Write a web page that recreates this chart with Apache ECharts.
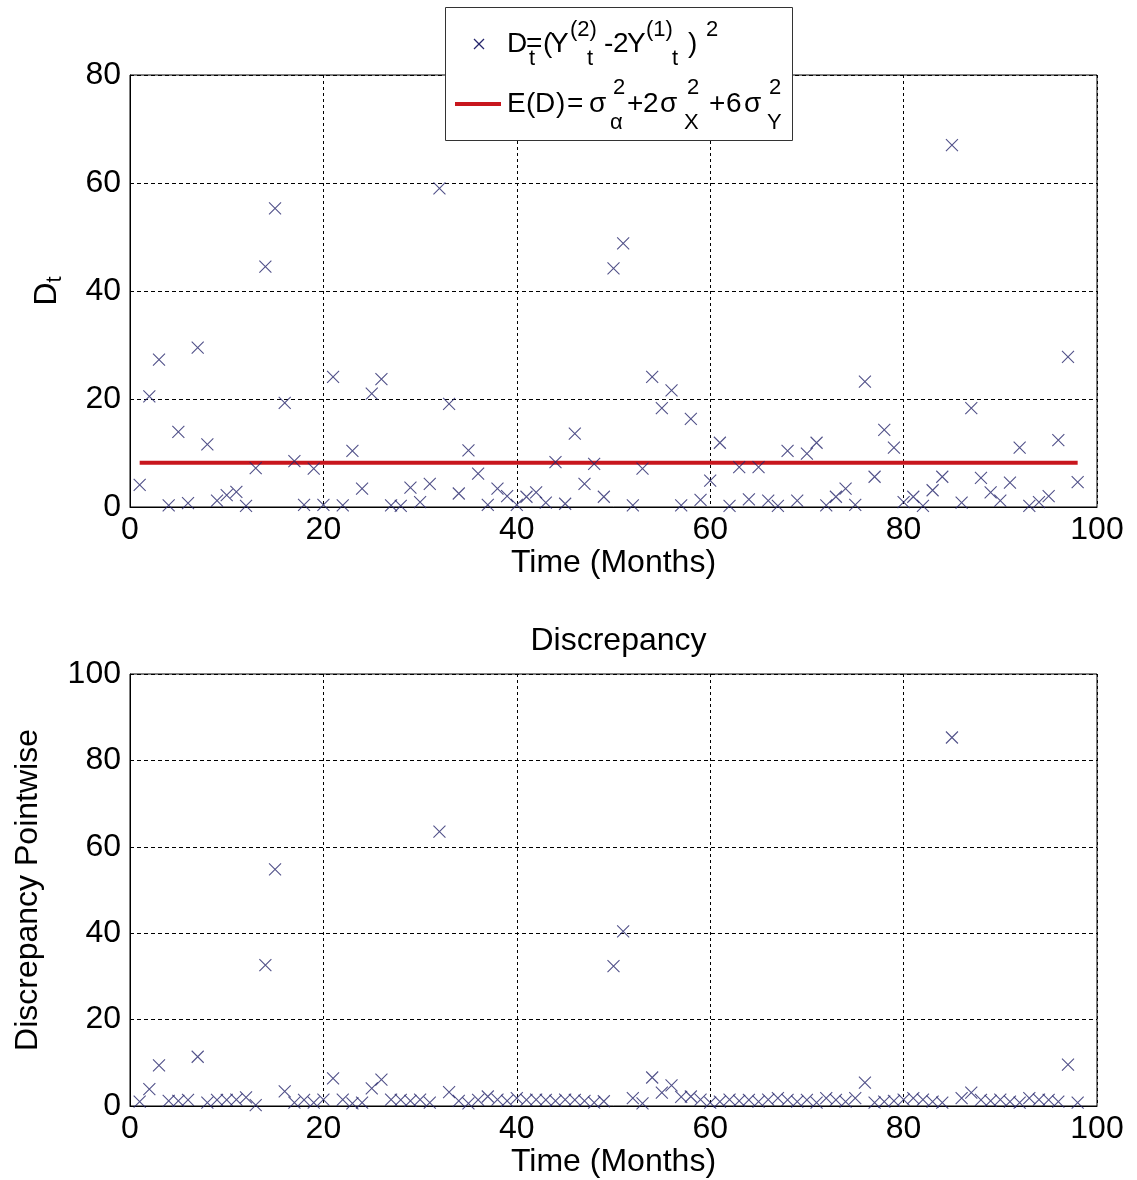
<!DOCTYPE html>
<html>
<head>
<meta charset="utf-8">
<script src="https://cdn.jsdelivr.net/npm/echarts@6/dist/echarts.min.js"></script>
<style>
html,body{margin:0;padding:0;background:#fff;}
#chart{width:1137px;height:1180px;}
</style>
</head>
<body>
<div id="chart"></div>
<script>
// ---- data ----
const months = [1,2,3,4,5,6,7,8,9,10,11,12,13,14,15,16,17,18,19,20,
  21,22,23,24,25,26,27,28,29,30,31,32,33,34,35,36,37,38,39,40,
  41,42,43,44,45,46,47,48,49,50,51,52,53,54,55,56,57,58,59,60,
  61,62,63,64,65,66,67,68,69,70,71,72,73,74,75,76,77,78,79,80,
  81,82,83,84,85,86,87,88,89,90,91,92,93,94,95,96,97,98];

const dtValues = [4.1,20.5,27.3,0.3,13.9,0.7,29.5,11.6,1.2,2.2,
  2.8,0.2,7.2,44.5,55.3,19.3,8.5,0.4,7.1,0.4,
  24.1,0.3,10.4,3.4,21.0,23.7,0.3,0.2,3.6,0.9,
  4.3,59.0,19.1,2.5,10.5,6.2,0.4,3.4,2.0,0.4,
  1.9,2.7,0.8,8.3,0.6,13.6,4.3,8.0,1.9,44.2,
  48.8,0.3,7.1,24.1,18.3,21.6,0.3,16.3,1.3,4.9,
  11.9,0.2,7.4,1.4,7.4,1.2,0.2,10.4,1.2,9.9,
  11.9,0.3,1.9,3.4,0.4,23.2,5.6,14.3,11.0,0.9,
  1.9,0.2,3.1,5.6,67.0,0.8,18.3,5.4,2.7,1.2,
  4.5,11.0,0.2,0.9,2.0,12.4,27.8,4.6];

const discrepancyValues = [1.0,3.9,9.4,1.2,1.2,1.4,11.4,0.8,1.4,1.4,
  1.5,2.0,0.2,32.6,54.8,3.4,0.8,1.4,0.8,1.5,
  6.4,1.5,0.6,0.8,4.1,6.1,1.5,1.4,1.2,1.5,
  0.8,63.5,3.2,1.2,0.6,1.4,2.2,1.5,1.2,1.8,
  1.4,1.5,1.4,1.2,1.5,1.4,1.2,0.8,1.1,32.4,
  40.4,1.8,0.6,6.6,3.1,4.8,2.1,2.2,1.5,0.8,
  1.0,1.5,1.2,1.4,1.0,1.5,1.8,1.4,1.0,1.4,
  0.8,1.8,1.4,1.0,1.8,5.4,0.8,1.0,1.2,1.5,
  1.8,1.5,1.0,0.8,85.3,1.8,3.1,1.4,1.2,1.5,
  1.0,0.8,1.8,1.5,1.4,1.0,9.6,0.8];

const expectedD = 8.2;

const xTicks = [0,20,40,60,80,100];
const topYTicks = [0,20,40,60,80];
const bottomYTicks = [0,20,40,60,80,100];

const titleText = 'Discrepancy';
const xName = 'Time (Months)';
const bottomYName = 'Discrepancy Pointwise';

// ---- styling ----
const FONT = '"Liberation Sans", Arial, sans-serif';
const AX = 32;
const markerColor = '#25256c';
const redColor = '#c8161d';
const crossPath = 'path://M0,0L10,10M10,0L0,10';

function xAxisCfg(gi){
  return {
    type:'value', gridIndex:gi, min:xTicks[0], max:xTicks[xTicks.length-1], interval:20,
    name:xName, nameLocation:'middle', nameGap:39,
    nameTextStyle:{fontSize:AX, fontFamily:FONT, color:'#000'},
    axisLine:{show:true, onZero:false, lineStyle:{color:'#000', width:1}},
    axisTick:{show:false},
    axisLabel:{fontSize:AX, fontFamily:FONT, color:'#000', margin:7},
    splitLine:{show:true, lineStyle:{color:'#000', width:1, type:[3,3]}}
  };
}
function yAxisCfg(gi, ticks, name, gap){
  return {
    type:'value', gridIndex:gi, min:ticks[0], max:ticks[ticks.length-1], interval:20,
    name:name, nameLocation:'middle', nameGap:gap, nameRotate:90,
    nameTextStyle:{fontSize:AX, fontFamily:FONT, color:'#000',
      rich:{ m:{fontSize:AX, fontFamily:FONT, color:'#000'},
             s:{fontSize:22, fontFamily:FONT, color:'#000', verticalAlign:'bottom', padding:[16,0,0,0]} }},
    axisLine:{show:true, lineStyle:{color:'#000', width:1}},
    axisTick:{show:false},
    axisLabel:{fontSize:AX, fontFamily:FONT, color:'#000', margin:9},
    splitLine:{show:true, lineStyle:{color:'#000', width:1, type:[4,3]}}
  };
}

const m1 = 28, s1 = 22;
function txt(x, y, t, size){
  return {type:'text', x:x, y:y, z:101, style:{text:t, fontSize:size, fontFamily:FONT, fill:'#000',
    textAlign:'left', textVerticalAlign:'middle', align:'left', verticalAlign:'middle'}};
}

const legendGraphic = [
  {type:'rect', z:100, shape:{x:445.5, y:7.5, width:347, height:133}, style:{fill:'#fff', stroke:'#333', lineWidth:1}},
  {type:'line', z:101, shape:{x1:474, y1:39, x2:484, y2:49}, style:{stroke:markerColor, lineWidth:1.2}},
  {type:'line', z:101, shape:{x1:484, y1:39, x2:474, y2:49}, style:{stroke:markerColor, lineWidth:1.2}},
  {type:'line', z:101, shape:{x1:455, y1:104, x2:501, y2:104}, style:{stroke:redColor, lineWidth:4}},
  // row 1: D_t=(Y_t^(2)-2Y_t^(1))^2
  txt(507, 44, 'D', m1),
  txt(529, 59, 't', s1),
  txt(526, 44, '=', m1),
  txt(543, 44, '(', m1),
  txt(550, 44, 'Y', m1),
  txt(570, 30, '(2)', s1),
  txt(587, 59, 't', s1),
  txt(604, 44, '-', m1),
  txt(613, 44, '2', m1),
  txt(627, 44, 'Y', m1),
  txt(646, 30, '(1)', s1),
  txt(672, 59, 't', s1),
  txt(688, 44, ')', m1),
  txt(706, 30, '2', s1),
  // row 2: E(D)=σ_α^2+2σ_X^2 +6σ_Y^2
  txt(507, 104, 'E', m1),
  txt(526, 104, '(', m1),
  txt(535, 104, 'D', m1),
  txt(556, 104, ')', m1),
  txt(567, 104, '=', m1),
  txt(589, 104, 'σ', m1),
  txt(613, 88, '2', s1),
  txt(610, 123, 'α', s1),
  txt(627, 104, '+', m1),
  txt(643, 104, '2', m1),
  txt(660, 104, 'σ', m1),
  txt(687, 88, '2', s1),
  txt(684, 123, 'X', s1),
  txt(709, 104, '+', m1),
  txt(726, 104, '6', m1),
  txt(744, 104, 'σ', m1),
  txt(769, 88, '2', s1),
  txt(767, 123, 'Y', s1)
];

const chart = echarts.init(document.getElementById('chart'), null, {renderer:'canvas'});
chart.setOption({
  animation:false,
  backgroundColor:'#fff',
  title:{text:titleText, left:613.5, top:620, textAlign:'center',
    textStyle:{fontSize:AX, fontWeight:'normal', fontFamily:FONT, color:'#000'}},
  grid:[
    {left:130, top:75, width:967, height:432, show:true, borderColor:'#000', borderWidth:1, backgroundColor:'#fff'},
    {left:130, top:674, width:967, height:432, show:true, borderColor:'#000', borderWidth:1, backgroundColor:'#fff'}
  ],
  xAxis:[xAxisCfg(0), xAxisCfg(1)],
  yAxis:[yAxisCfg(0, topYTicks, '{m|D}{s|t}', 64), yAxisCfg(1, bottomYTicks, bottomYName, 86)],
  series:[
    {type:'line', xAxisIndex:0, yAxisIndex:0, z:2, symbol:'none', silent:true,
     data:[[months[0], expectedD],[months[months.length-1], expectedD]],
     lineStyle:{color:redColor, width:4}},
    {type:'scatter', xAxisIndex:0, yAxisIndex:0, z:3, symbol:crossPath, symbolSize:12, silent:true,
     data:months.map((m,i)=>[m, dtValues[i]]),
     itemStyle:{color:'rgba(0,0,0,0)', borderColor:markerColor, borderWidth:1.1}},
    {type:'scatter', xAxisIndex:1, yAxisIndex:1, z:3, symbol:crossPath, symbolSize:12, silent:true,
     data:months.map((m,i)=>[m, discrepancyValues[i]]),
     itemStyle:{color:'rgba(0,0,0,0)', borderColor:markerColor, borderWidth:1.1}}
  ],
  graphic:legendGraphic
});
</script>
</body>
</html>
